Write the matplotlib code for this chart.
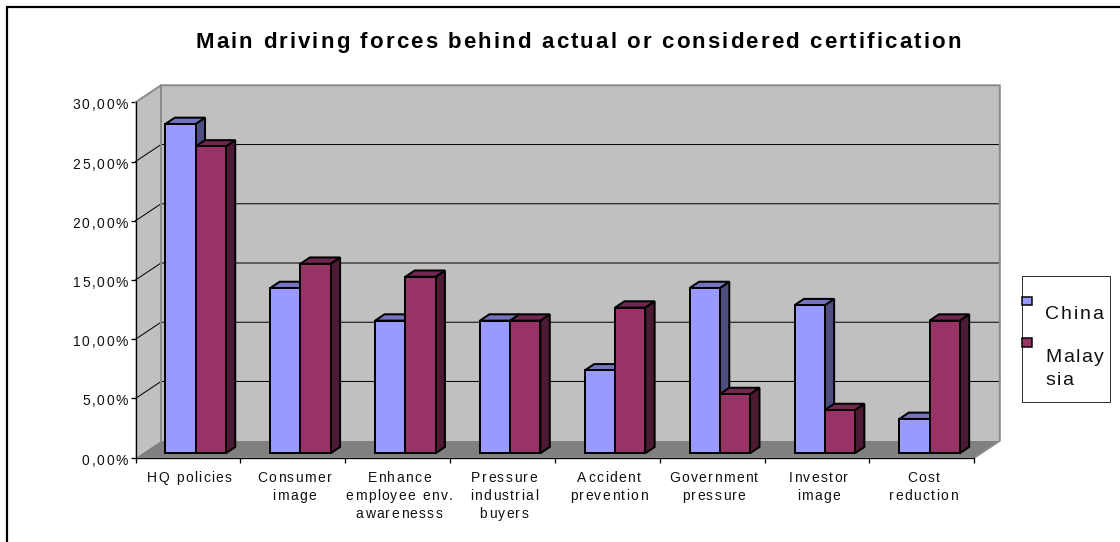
import matplotlib
matplotlib.use("Agg")
import matplotlib.pyplot as plt
from matplotlib.patches import Polygon, Rectangle
from matplotlib.text import Text
from matplotlib.transforms import IdentityTransform
from matplotlib import font_manager as fm
from matplotlib.ft2font import LoadFlags

categories = ["HQ policies", "Consumer\nimage", "Enhance\nemployee env.\nawarenesss",
              "Pressure\nindustrial\nbuyers", "Accident\nprevention", "Government\npressure",
              "Investor\nimage", "Cost\nreduction"]
china = [27.8, 13.95, 11.2, 11.2, 7.0, 13.95, 12.5, 2.9]
malaysia = [25.9, 16.0, 14.9, 11.2, 12.3, 5.0, 3.65, 11.2]
series_names = ["China", "Malay\nsia"]
yticks = [0, 5, 10, 15, 20, 25, 30]

C_FRONT, C_TOP, C_SIDE = "#9999FF", "#7373BF", "#4D4D80"
M_FRONT, M_TOP, M_SIDE = "#993366", "#732650", "#4D1A33"
WALL, FLOOR, EDGE = "#C0C0C0", "#808080", "#8C8C8C"
FONT = "Liberation Sans"
px = 0.72
W, H = 1120, 542


class SpacedText(Text):
    """A Text that renders with extra letter spacing (pixels)."""
    tracking = 0.0
    line_px = None
    shift = (0.0, 0.0)

    def draw(self, renderer):
        if not self.get_visible() or not self.get_text():
            return
        prop = self.get_fontproperties()
        size = prop.get_size_in_points() * 100 / 72
        font = fm.get_font(fm.findfont(prop))
        font.set_size(prop.get_size_in_points(), 100)
        adv = lambda ch: font.load_char(ord(ch), flags=LoadFlags.NO_HINTING).linearHoriAdvance / 65536
        lines = self.get_text().split("\n")
        cap = 0.716 * size
        lh = self.line_px or size * 1.3
        xp, yp = self.get_transform().transform(self.get_position())
        xp += self.shift[0]
        yp += self.shift[1]
        va = self.get_va()
        if va == "top":
            base = yp - cap
        elif va == "baseline":
            base = yp
        else:
            base = yp + (cap + (len(lines) - 1) * lh) / 2 - cap
        ha = self.get_ha()
        for k, line in enumerate(lines):
            width = sum(adv(c) for c in line) + self.tracking * (len(line) - 1)
            x = xp - {"left": 0, "center": width / 2, "right": width}[ha]
            for ch in line:
                if ch != " ":
                    t = Text(x, base - k * lh, ch, fontproperties=prop, color=self.get_color(),
                             ha="left", va="baseline", transform=IdentityTransform())
                    t.set_figure(self.get_figure())
                    t.draw(renderer)
                x += adv(ch) + self.tracking
        self.stale = False


def spaced(t, tracking, line_px=None, shift=(0.0, 0.0)):
    t.__class__ = SpacedText
    t.tracking, t.line_px, t.shift = tracking, line_px, shift
    return t


fig = plt.figure(figsize=(W / 100, H / 100), dpi=100, facecolor="white")

# full-figure overlay in pixels for frame, title, legend
ov = fig.add_axes([0, 0, 1, 1], zorder=5)
ov.set_xlim(0, W); ov.set_ylim(H, 0); ov.axis("off"); ov.patch.set_alpha(0)
ov.plot([7, 7, W], [H, 6.5, 6.5], color="black", lw=2.2 * px, solid_joinstyle="miter")
spaced(ov.text(578, 47.7, "Main driving forces behind actual or considered certification",
               family=FONT, fontsize=16, fontweight="bold", ha="center", va="baseline"), 2.1)

# legend
ov.add_patch(Rectangle((1021.5, 275.5), 88, 126, fc="white", ec="#333333", lw=1 * px))
for y, col, name, ty in [(296.7, C_FRONT, series_names[0], 319.3),
                         (338.3, M_FRONT, series_names[1], 361.7)]:
    ov.add_patch(Rectangle((1021.5, y), 10.5, 8.7, fc=col, ec="black", lw=1.5 * px))
    spaced(ov.text(1045, ty, name, family=FONT, fontsize=14, ha="left", va="baseline", color="#111111"),
           1.7, line_px=23.3)

# plot area: front plane
L, R, B, T = 135.5, 974.3, 457.7, 102.3
ax = fig.add_axes([L / W, 1 - B / H, (R - L) / W, (B - T) / H])
n = len(categories)
ax.set_xlim(0, n); ax.set_ylim(0, 30)
ax.patch.set_alpha(0)
DX = 25.5 / ((R - L) / n)      # depth offset in category units
DY = 17.0 / ((B - T) / 30)     # depth offset in percent units


def poly(pts, **kw):
    ax.add_patch(Polygon(pts, closed=True, clip_on=False, **kw))


# walls and floor
poly([(0, 0), (DX, DY), (n + DX, DY), (n, 0)], fc=FLOOR, ec="none", zorder=1)
poly([(0, 0), (0, 30), (DX, 30 + DY), (DX, DY)], fc=WALL, ec="none", zorder=1)
poly([(DX, DY), (DX, 30 + DY), (n + DX, 30 + DY), (n + DX, DY)], fc=WALL, ec="none", zorder=1)
for v in yticks[1:-1]:
    ax.plot([0, DX, n + DX], [v, v + DY, v + DY], color="black", lw=1 * px, zorder=2, clip_on=False)
ax.plot([0, DX, DX], [30, 30 + DY, DY], color=EDGE, lw=2 * px, zorder=2, clip_on=False)
ax.plot([DX, n + DX, n + DX, n], [30 + DY, 30 + DY, DY, 0], color=EDGE, lw=2 * px, zorder=2, clip_on=False)

# bars (oblique projection)
bw = 30.2 / ((R - L) / n)
d0 = 0.26 * DX     # gap between the front plane and the bar front
dd = 0.37 * DX     # bar depth
z = 3


def bar3d(x0, v, front, top, side):
    global z
    x1 = x0 + bw
    b = d0 * DY / DX
    h = dd * DY / DX
    st = dict(ec="black", lw=2 * px, joinstyle="miter")
    poly([(x1, b), (x1 + dd, b + h), (x1 + dd, v + b + h), (x1, v + b)], fc=side, zorder=z, **st)
    poly([(x0, v + b), (x0 + dd, v + b + h), (x1 + dd, v + b + h), (x1, v + b)], fc=top, zorder=z, **st)
    poly([(x0, b), (x0, v + b), (x1, v + b), (x1, b)], fc=front, zorder=z, **st)
    z += 1


for i in range(n):
    c = i + 0.5 + d0 + 0.01
    bar3d(c - bw, china[i], C_FRONT, C_TOP, C_SIDE)
    bar3d(c, malaysia[i], M_FRONT, M_TOP, M_SIDE)

# axes
for s in ("top", "right"):
    ax.spines[s].set_visible(False)
for s in ("left", "bottom"):
    ax.spines[s].set_linewidth(1.3 * px)
    ax.spines[s].set_zorder(2.5)
ax.set_yticks(yticks)
ax.set_yticklabels([f"{v:.2f}%".replace(".", ",") for v in yticks], family=FONT, fontsize=10, color="#111111")
ax.set_xticks(range(n + 1))
ax.set_xticklabels([])
ax.set_xticks([i + 0.5 for i in range(n)], minor=True)
ax.set_xticklabels(categories, minor=True, family=FONT, fontsize=10, color="#111111")
ax.tick_params(axis="y", length=5 * px, width=1.3 * px, pad=2)
ax.tick_params(axis="x", which="major", length=5 * px, width=1.3 * px)
ax.tick_params(axis="x", which="minor", length=0, pad=10)
for lbl in ax.get_yticklabels():
    spaced(lbl, 1.6, shift=(0, -2.0))
for lbl in ax.get_xticklabels(minor=True):
    spaced(lbl, 1.4, line_px=18.2, shift=(1.5, 0))

fig.savefig("out.png", dpi=100)
